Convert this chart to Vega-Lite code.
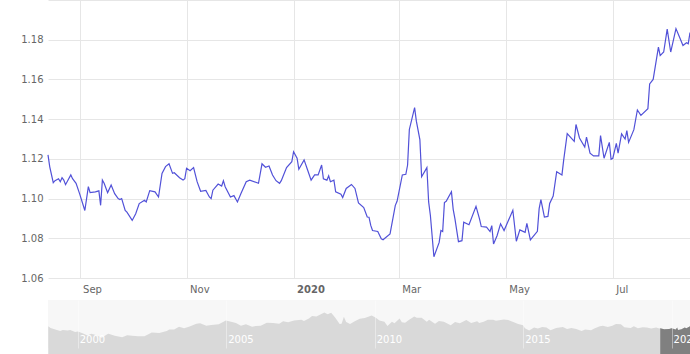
{
  "$schema": "https://vega.github.io/schema/vega-lite/v6.json",
  "padding": {"left": 5, "top": 0, "right": 0, "bottom": 0},
  "spacing": 22,
  "bounds": "flush",
  "config": {"view": {"stroke": null}, "font": "DejaVu Sans"},
  "datasets": {
    "fx": [
      {"date": "2019-08-14", "rate": 1.122},
      {"date": "2019-08-15", "rate": 1.116},
      {"date": "2019-08-17", "rate": 1.108},
      {"date": "2019-08-18", "rate": 1.109},
      {"date": "2019-08-20", "rate": 1.110},
      {"date": "2019-08-21", "rate": 1.1085},
      {"date": "2019-08-22", "rate": 1.1105},
      {"date": "2019-08-23", "rate": 1.1093},
      {"date": "2019-08-24", "rate": 1.107},
      {"date": "2019-08-27", "rate": 1.1119},
      {"date": "2019-08-28", "rate": 1.110},
      {"date": "2019-08-30", "rate": 1.1077},
      {"date": "2019-09-01", "rate": 1.1025},
      {"date": "2019-09-04", "rate": 1.094},
      {"date": "2019-09-06", "rate": 1.106},
      {"date": "2019-09-07", "rate": 1.103},
      {"date": "2019-09-10", "rate": 1.1034},
      {"date": "2019-09-12", "rate": 1.1039},
      {"date": "2019-09-13", "rate": 1.0966},
      {"date": "2019-09-14", "rate": 1.1093},
      {"date": "2019-09-15", "rate": 1.1077},
      {"date": "2019-09-17", "rate": 1.103},
      {"date": "2019-09-19", "rate": 1.1068},
      {"date": "2019-09-21", "rate": 1.1025},
      {"date": "2019-09-23", "rate": 1.100},
      {"date": "2019-09-24", "rate": 1.0995},
      {"date": "2019-09-25", "rate": 1.100},
      {"date": "2019-09-27", "rate": 1.094},
      {"date": "2019-09-28", "rate": 1.0932},
      {"date": "2019-10-01", "rate": 1.089},
      {"date": "2019-10-03", "rate": 1.0924},
      {"date": "2019-10-05", "rate": 1.0975},
      {"date": "2019-10-08", "rate": 1.0991},
      {"date": "2019-10-09", "rate": 1.0983},
      {"date": "2019-10-11", "rate": 1.104},
      {"date": "2019-10-14", "rate": 1.1034},
      {"date": "2019-10-16", "rate": 1.1008},
      {"date": "2019-10-18", "rate": 1.1127},
      {"date": "2019-10-20", "rate": 1.1161},
      {"date": "2019-10-22", "rate": 1.1175},
      {"date": "2019-10-24", "rate": 1.1127},
      {"date": "2019-10-25", "rate": 1.113},
      {"date": "2019-10-28", "rate": 1.1105},
      {"date": "2019-10-30", "rate": 1.1093},
      {"date": "2019-10-31", "rate": 1.110},
      {"date": "2019-11-01", "rate": 1.1153},
      {"date": "2019-11-03", "rate": 1.114},
      {"date": "2019-11-05", "rate": 1.1156},
      {"date": "2019-11-07", "rate": 1.1085},
      {"date": "2019-11-09", "rate": 1.1037},
      {"date": "2019-11-12", "rate": 1.1041},
      {"date": "2019-11-14", "rate": 1.1008},
      {"date": "2019-11-15", "rate": 1.100},
      {"date": "2019-11-16", "rate": 1.1042},
      {"date": "2019-11-19", "rate": 1.1073},
      {"date": "2019-11-21", "rate": 1.1063},
      {"date": "2019-11-22", "rate": 1.109},
      {"date": "2019-11-23", "rate": 1.106},
      {"date": "2019-11-26", "rate": 1.1008},
      {"date": "2019-11-28", "rate": 1.1015},
      {"date": "2019-11-30", "rate": 1.0983},
      {"date": "2019-12-02", "rate": 1.1025},
      {"date": "2019-12-05", "rate": 1.1085},
      {"date": "2019-12-07", "rate": 1.1093},
      {"date": "2019-12-12", "rate": 1.1077},
      {"date": "2019-12-14", "rate": 1.1175},
      {"date": "2019-12-16", "rate": 1.1158},
      {"date": "2019-12-18", "rate": 1.1164},
      {"date": "2019-12-20", "rate": 1.1119},
      {"date": "2019-12-22", "rate": 1.109},
      {"date": "2019-12-24", "rate": 1.1077},
      {"date": "2019-12-25", "rate": 1.109},
      {"date": "2019-12-28", "rate": 1.1156},
      {"date": "2019-12-31", "rate": 1.1186},
      {"date": "2020-01-01", "rate": 1.1236},
      {"date": "2020-01-03", "rate": 1.1203},
      {"date": "2020-01-04", "rate": 1.1148},
      {"date": "2020-01-07", "rate": 1.1195},
      {"date": "2020-01-09", "rate": 1.1144},
      {"date": "2020-01-11", "rate": 1.1093},
      {"date": "2020-01-13", "rate": 1.1119},
      {"date": "2020-01-15", "rate": 1.1119},
      {"date": "2020-01-17", "rate": 1.1169},
      {"date": "2020-01-18", "rate": 1.110},
      {"date": "2020-01-20", "rate": 1.1093},
      {"date": "2020-01-21", "rate": 1.1115},
      {"date": "2020-01-22", "rate": 1.1085},
      {"date": "2020-01-24", "rate": 1.1093},
      {"date": "2020-01-25", "rate": 1.1034},
      {"date": "2020-01-28", "rate": 1.1022},
      {"date": "2020-01-29", "rate": 1.1005},
      {"date": "2020-01-31", "rate": 1.1051},
      {"date": "2020-02-03", "rate": 1.1071},
      {"date": "2020-02-05", "rate": 1.1051},
      {"date": "2020-02-07", "rate": 1.0978},
      {"date": "2020-02-10", "rate": 1.0955},
      {"date": "2020-02-12", "rate": 1.0907},
      {"date": "2020-02-13", "rate": 1.0906},
      {"date": "2020-02-14", "rate": 1.0865},
      {"date": "2020-02-15", "rate": 1.0839},
      {"date": "2020-02-18", "rate": 1.0834},
      {"date": "2020-02-20", "rate": 1.0797},
      {"date": "2020-02-21", "rate": 1.0793},
      {"date": "2020-02-25", "rate": 1.0822},
      {"date": "2020-02-28", "rate": 1.0966},
      {"date": "2020-02-29", "rate": 1.0986},
      {"date": "2020-03-03", "rate": 1.1119},
      {"date": "2020-03-05", "rate": 1.1122},
      {"date": "2020-03-06", "rate": 1.1169},
      {"date": "2020-03-07", "rate": 1.1348},
      {"date": "2020-03-10", "rate": 1.1458},
      {"date": "2020-03-11", "rate": 1.139},
      {"date": "2020-03-13", "rate": 1.1297},
      {"date": "2020-03-14", "rate": 1.111},
      {"date": "2020-03-17", "rate": 1.1156},
      {"date": "2020-03-18", "rate": 1.0983},
      {"date": "2020-03-19", "rate": 1.0915},
      {"date": "2020-03-21", "rate": 1.0707},
      {"date": "2020-03-24", "rate": 1.0779},
      {"date": "2020-03-25", "rate": 1.0839},
      {"date": "2020-03-26", "rate": 1.0834},
      {"date": "2020-03-27", "rate": 1.098},
      {"date": "2020-03-28", "rate": 1.0986},
      {"date": "2020-03-31", "rate": 1.1034},
      {"date": "2020-04-01", "rate": 1.0946},
      {"date": "2020-04-02", "rate": 1.0898},
      {"date": "2020-04-04", "rate": 1.0783},
      {"date": "2020-04-06", "rate": 1.0788},
      {"date": "2020-04-07", "rate": 1.0881},
      {"date": "2020-04-10", "rate": 1.0868},
      {"date": "2020-04-14", "rate": 1.0961},
      {"date": "2020-04-16", "rate": 1.0898},
      {"date": "2020-04-17", "rate": 1.0859},
      {"date": "2020-04-20", "rate": 1.0856},
      {"date": "2020-04-22", "rate": 1.0834},
      {"date": "2020-04-23", "rate": 1.0864},
      {"date": "2020-04-24", "rate": 1.0771},
      {"date": "2020-04-26", "rate": 1.0813},
      {"date": "2020-04-28", "rate": 1.0873},
      {"date": "2020-04-30", "rate": 1.0839},
      {"date": "2020-05-05", "rate": 1.0941},
      {"date": "2020-05-07", "rate": 1.0785},
      {"date": "2020-05-09", "rate": 1.0842},
      {"date": "2020-05-12", "rate": 1.083},
      {"date": "2020-05-13", "rate": 1.0875},
      {"date": "2020-05-15", "rate": 1.0792},
      {"date": "2020-05-19", "rate": 1.0835},
      {"date": "2020-05-20", "rate": 1.0949},
      {"date": "2020-05-21", "rate": 1.0995},
      {"date": "2020-05-23", "rate": 1.0907},
      {"date": "2020-05-25", "rate": 1.091},
      {"date": "2020-05-26", "rate": 1.0975},
      {"date": "2020-05-28", "rate": 1.1013},
      {"date": "2020-05-30", "rate": 1.1135},
      {"date": "2020-06-02", "rate": 1.1119},
      {"date": "2020-06-03", "rate": 1.1195},
      {"date": "2020-06-05", "rate": 1.1327},
      {"date": "2020-06-09", "rate": 1.1288},
      {"date": "2020-06-10", "rate": 1.1373},
      {"date": "2020-06-12", "rate": 1.1305},
      {"date": "2020-06-15", "rate": 1.126},
      {"date": "2020-06-16", "rate": 1.131},
      {"date": "2020-06-18", "rate": 1.1229},
      {"date": "2020-06-20", "rate": 1.1215},
      {"date": "2020-06-23", "rate": 1.1215},
      {"date": "2020-06-24", "rate": 1.1317},
      {"date": "2020-06-26", "rate": 1.1203},
      {"date": "2020-06-29", "rate": 1.1283},
      {"date": "2020-06-30", "rate": 1.1198},
      {"date": "2020-07-01", "rate": 1.1203},
      {"date": "2020-07-03", "rate": 1.1278},
      {"date": "2020-07-04", "rate": 1.1229},
      {"date": "2020-07-06", "rate": 1.1326},
      {"date": "2020-07-08", "rate": 1.13},
      {"date": "2020-07-09", "rate": 1.1342},
      {"date": "2020-07-10", "rate": 1.1283},
      {"date": "2020-07-13", "rate": 1.1347},
      {"date": "2020-07-15", "rate": 1.1446},
      {"date": "2020-07-17", "rate": 1.1419},
      {"date": "2020-07-21", "rate": 1.1453},
      {"date": "2020-07-22", "rate": 1.1577},
      {"date": "2020-07-24", "rate": 1.16},
      {"date": "2020-07-27", "rate": 1.1763},
      {"date": "2020-07-28", "rate": 1.172},
      {"date": "2020-07-30", "rate": 1.1738},
      {"date": "2020-08-01", "rate": 1.1853},
      {"date": "2020-08-03", "rate": 1.1738},
      {"date": "2020-08-06", "rate": 1.1856},
      {"date": "2020-08-08", "rate": 1.1814},
      {"date": "2020-08-10", "rate": 1.1771},
      {"date": "2020-08-12", "rate": 1.1785},
      {"date": "2020-08-13", "rate": 1.178},
      {"date": "2020-08-14", "rate": 1.1836}
    ],
    "nav": [
      {"date": "1999-01-04", "rate": 1.18},
      {"date": "1999-02-01", "rate": 1.13},
      {"date": "1999-04-01", "rate": 1.08},
      {"date": "1999-06-01", "rate": 1.04},
      {"date": "1999-07-01", "rate": 1.07},
      {"date": "1999-09-01", "rate": 1.05},
      {"date": "1999-10-01", "rate": 1.07},
      {"date": "1999-12-01", "rate": 1.01},
      {"date": "2000-01-03", "rate": 1.02},
      {"date": "2000-03-01", "rate": 0.97},
      {"date": "2000-05-01", "rate": 0.90},
      {"date": "2000-06-15", "rate": 0.95},
      {"date": "2000-08-01", "rate": 0.92},
      {"date": "2000-10-25", "rate": 0.83},
      {"date": "2000-12-29", "rate": 0.94},
      {"date": "2001-01-15", "rate": 0.95},
      {"date": "2001-04-01", "rate": 0.89},
      {"date": "2001-07-01", "rate": 0.85},
      {"date": "2001-09-01", "rate": 0.91},
      {"date": "2001-11-01", "rate": 0.89},
      {"date": "2002-01-15", "rate": 0.88},
      {"date": "2002-04-01", "rate": 0.88},
      {"date": "2002-07-01", "rate": 0.99},
      {"date": "2002-10-01", "rate": 0.98},
      {"date": "2002-12-31", "rate": 1.04},
      {"date": "2003-02-01", "rate": 1.08},
      {"date": "2003-04-01", "rate": 1.08},
      {"date": "2003-06-01", "rate": 1.17},
      {"date": "2003-08-01", "rate": 1.12},
      {"date": "2003-10-01", "rate": 1.17},
      {"date": "2003-12-31", "rate": 1.26},
      {"date": "2004-02-15", "rate": 1.27},
      {"date": "2004-05-01", "rate": 1.20},
      {"date": "2004-07-01", "rate": 1.22},
      {"date": "2004-10-01", "rate": 1.24},
      {"date": "2004-12-28", "rate": 1.36},
      {"date": "2005-03-01", "rate": 1.32},
      {"date": "2005-05-01", "rate": 1.28},
      {"date": "2005-07-01", "rate": 1.20},
      {"date": "2005-09-01", "rate": 1.24},
      {"date": "2005-11-15", "rate": 1.17},
      {"date": "2006-01-01", "rate": 1.19},
      {"date": "2006-03-01", "rate": 1.20},
      {"date": "2006-05-15", "rate": 1.29},
      {"date": "2006-08-01", "rate": 1.28},
      {"date": "2006-10-15", "rate": 1.26},
      {"date": "2006-12-01", "rate": 1.33},
      {"date": "2007-02-01", "rate": 1.30},
      {"date": "2007-04-15", "rate": 1.36},
      {"date": "2007-07-15", "rate": 1.38},
      {"date": "2007-08-15", "rate": 1.34},
      {"date": "2007-10-15", "rate": 1.42},
      {"date": "2007-11-23", "rate": 1.49},
      {"date": "2008-01-15", "rate": 1.48},
      {"date": "2008-04-22", "rate": 1.60},
      {"date": "2008-06-01", "rate": 1.55},
      {"date": "2008-07-15", "rate": 1.59},
      {"date": "2008-09-01", "rate": 1.45},
      {"date": "2008-10-27", "rate": 1.25},
      {"date": "2008-11-20", "rate": 1.26},
      {"date": "2008-12-18", "rate": 1.47},
      {"date": "2009-01-15", "rate": 1.31},
      {"date": "2009-03-04", "rate": 1.25},
      {"date": "2009-05-01", "rate": 1.33},
      {"date": "2009-07-01", "rate": 1.41},
      {"date": "2009-09-01", "rate": 1.43},
      {"date": "2009-11-25", "rate": 1.51},
      {"date": "2010-01-15", "rate": 1.44},
      {"date": "2010-03-01", "rate": 1.36},
      {"date": "2010-05-01", "rate": 1.32},
      {"date": "2010-06-07", "rate": 1.19},
      {"date": "2010-08-01", "rate": 1.32},
      {"date": "2010-09-01", "rate": 1.27},
      {"date": "2010-11-04", "rate": 1.42},
      {"date": "2010-12-01", "rate": 1.30},
      {"date": "2011-01-10", "rate": 1.29},
      {"date": "2011-03-01", "rate": 1.38},
      {"date": "2011-05-03", "rate": 1.48},
      {"date": "2011-06-01", "rate": 1.44},
      {"date": "2011-08-01", "rate": 1.44},
      {"date": "2011-10-04", "rate": 1.32},
      {"date": "2011-11-01", "rate": 1.38},
      {"date": "2012-01-13", "rate": 1.26},
      {"date": "2012-03-01", "rate": 1.34},
      {"date": "2012-05-01", "rate": 1.32},
      {"date": "2012-07-24", "rate": 1.21},
      {"date": "2012-09-15", "rate": 1.31},
      {"date": "2012-11-13", "rate": 1.27},
      {"date": "2013-02-01", "rate": 1.37},
      {"date": "2013-04-01", "rate": 1.28},
      {"date": "2013-06-15", "rate": 1.33},
      {"date": "2013-07-09", "rate": 1.28},
      {"date": "2013-09-01", "rate": 1.32},
      {"date": "2013-10-25", "rate": 1.38},
      {"date": "2013-12-27", "rate": 1.38},
      {"date": "2014-02-01", "rate": 1.35},
      {"date": "2014-05-08", "rate": 1.39},
      {"date": "2014-07-01", "rate": 1.37},
      {"date": "2014-09-01", "rate": 1.31},
      {"date": "2014-11-01", "rate": 1.25},
      {"date": "2014-12-31", "rate": 1.21},
      {"date": "2015-01-23", "rate": 1.12},
      {"date": "2015-03-16", "rate": 1.05},
      {"date": "2015-05-15", "rate": 1.14},
      {"date": "2015-07-01", "rate": 1.11},
      {"date": "2015-08-24", "rate": 1.16},
      {"date": "2015-10-15", "rate": 1.14},
      {"date": "2015-12-03", "rate": 1.06},
      {"date": "2016-02-11", "rate": 1.13},
      {"date": "2016-05-03", "rate": 1.16},
      {"date": "2016-06-24", "rate": 1.10},
      {"date": "2016-08-15", "rate": 1.13},
      {"date": "2016-10-15", "rate": 1.10},
      {"date": "2016-12-20", "rate": 1.04},
      {"date": "2017-02-01", "rate": 1.08},
      {"date": "2017-04-15", "rate": 1.06},
      {"date": "2017-06-01", "rate": 1.12},
      {"date": "2017-08-01", "rate": 1.18},
      {"date": "2017-09-08", "rate": 1.20},
      {"date": "2017-11-07", "rate": 1.16},
      {"date": "2018-01-01", "rate": 1.20},
      {"date": "2018-02-16", "rate": 1.25},
      {"date": "2018-04-17", "rate": 1.24},
      {"date": "2018-05-29", "rate": 1.15},
      {"date": "2018-08-15", "rate": 1.13},
      {"date": "2018-09-24", "rate": 1.18},
      {"date": "2018-11-12", "rate": 1.12},
      {"date": "2019-01-10", "rate": 1.15},
      {"date": "2019-03-01", "rate": 1.14},
      {"date": "2019-04-26", "rate": 1.11},
      {"date": "2019-06-25", "rate": 1.14},
      {"date": "2019-08-01", "rate": 1.11},
      {"date": "2019-08-14", "rate": 1.12},
      {"date": "2019-10-01", "rate": 1.09},
      {"date": "2019-12-01", "rate": 1.10},
      {"date": "2019-12-31", "rate": 1.12},
      {"date": "2020-02-20", "rate": 1.08},
      {"date": "2020-03-09", "rate": 1.14},
      {"date": "2020-03-20", "rate": 1.07},
      {"date": "2020-05-01", "rate": 1.09},
      {"date": "2020-06-10", "rate": 1.14},
      {"date": "2020-07-01", "rate": 1.12},
      {"date": "2020-08-14", "rate": 1.18}
    ],
    "years": [
      {"date": "2000-01-01", "label": "2000"},
      {"date": "2005-01-01", "label": "2005"},
      {"date": "2010-01-01", "label": "2010"},
      {"date": "2015-01-01", "label": "2015"},
      {"date": "2020-01-01", "label": "2020"}
    ]
  },
  "vconcat": [
    {
      "width": 642,
      "height": 278,
      "data": {"name": "fx", "format": {"parse": {"date": "date"}}},
      "mark": {"type": "line", "color": "#5151d8", "strokeWidth": 1.2},
      "encoding": {
        "x": {
          "field": "date",
          "type": "temporal",
          "scale": {"type": "utc", "domain": [{"year": 2019, "month": 8, "date": 14, "utc": true}, {"year": 2020, "month": 8, "date": 14, "utc": true}]},
          "axis": {
            "title": null,
            "values": [
              {"year": 2019, "month": 9, "date": 1, "utc": true},
              {"year": 2019, "month": 11, "date": 1, "utc": true},
              {"year": 2020, "month": 1, "date": 1, "utc": true},
              {"year": 2020, "month": 3, "date": 1, "utc": true},
              {"year": 2020, "month": 5, "date": 1, "utc": true},
              {"year": 2020, "month": 7, "date": 1, "utc": true}
            ],
            "labelExpr": "utcFormat(datum.value, utcmonth(datum.value) == 0 ? '%Y' : '%b')",
            "labelFontWeight": {"condition": {"test": "utcmonth(datum.value) == 0", "value": "bold"}, "value": "normal"},
            "labelAlign": "left",
            "labelOffset": 3,
            "labelPadding": 6,
            "labelColor": "#666666",
            "labelFontSize": 10,
            "domain": false,
            "ticks": false,
            "grid": true,
            "gridColor": "#e6e6e6"
          }
        },
        "y": {
          "field": "rate",
          "type": "quantitative",
          "scale": {"domain": [1.06, 1.2], "zero": false, "nice": false},
          "axis": {
            "title": null,
            "values": [1.06, 1.08, 1.1, 1.12, 1.14, 1.16, 1.18, 1.2],
            "labelExpr": "datum.value > 1.19 ? '' : format(datum.value, '.2f')",
            "labelPadding": 5,
            "labelColor": "#666666",
            "labelFontSize": 10,
            "domain": false,
            "ticks": false,
            "gridColor": "#e6e6e6",
            "minExtent": 43,
            "maxExtent": 43
          }
        }
      }
    },
    {
      "width": 642,
      "height": 48,
      "view": {"fill": "#f7f7f7", "stroke": null},
      "layer": [
        {
          "data": {"name": "nav", "format": {"parse": {"date": "date"}}},
          "mark": {"type": "area", "color": "#d9d9d9", "opacity": 1},
          "encoding": {
            "x": {
              "field": "date",
              "type": "temporal",
              "scale": {"type": "utc", "domain": [{"year": 1999, "month": 1, "date": 1, "utc": true}, {"year": 2020, "month": 8, "date": 14, "utc": true}]},
              "axis": {
                "title": null,
                "values": [
                  {"year": 2000, "month": 1, "date": 1, "utc": true},
                  {"year": 2005, "month": 1, "date": 1, "utc": true},
                  {"year": 2010, "month": 1, "date": 1, "utc": true},
                  {"year": 2015, "month": 1, "date": 1, "utc": true},
                  {"year": 2020, "month": 1, "date": 1, "utc": true}
                ],
                "labels": false,
                "ticks": false,
                "domain": false,
                "grid": true,
                "gridColor": "#ffffff",
                "gridOpacity": 0.4,
                "zindex": 1
              }
            },
            "y": {
              "field": "rate",
              "type": "quantitative",
              "scale": {"domain": [0.52, 1.98], "zero": false, "nice": false},
              "axis": null
            }
          }
        },
        {
          "data": {"name": "nav", "format": {"parse": {"date": "date"}}},
          "transform": [{"filter": {"field": "date", "gte": {"year": 2019, "month": 8, "date": 14, "utc": true}}}],
          "mark": {"type": "area", "color": "#808080", "opacity": 1},
          "encoding": {
            "x": {"field": "date", "type": "temporal"},
            "y": {"field": "rate", "type": "quantitative"}
          }
        },
        {
          "data": {"name": "years", "format": {"parse": {"date": "date"}}},
          "mark": {"type": "text", "align": "left", "dx": 2, "baseline": "alphabetic", "color": "#ffffff", "fontSize": 10, "clip": true},
          "encoding": {
            "x": {"field": "date", "type": "temporal"},
            "y": {"datum": 0.66, "type": "quantitative"},
            "text": {"field": "label"}
          }
        }
      ]
    }
  ]
}
